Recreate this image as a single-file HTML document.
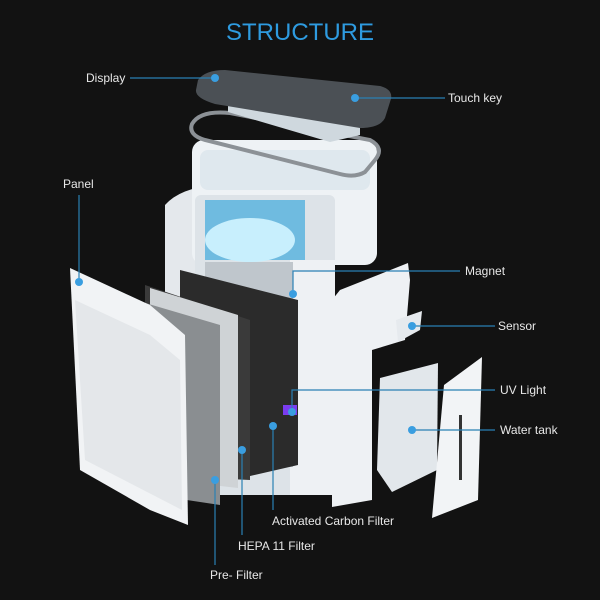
<!DOCTYPE html>
<html><head><meta charset="utf-8"><style>
html,body{margin:0;padding:0;background:#121212;}
svg{display:block}
text{font-family:"Liberation Sans",sans-serif;fill:#e8e8e8;font-size:12px}
</style></head><body>
<svg width="600" height="600" viewBox="0 0 600 600">
<rect width="600" height="600" fill="#121212"/>
<text x="300" y="40" text-anchor="middle" style="font-size:24px;fill:#2e9be0">STRUCTURE</text>

<!-- back shell -->
<path d="M165,205 Q180,188 215,185 L215,480 L165,470 Z" fill="#e4e8ec"/>
<!-- main body -->
<rect x="192" y="140" width="185" height="125" rx="12" fill="#eef2f5"/>
<rect x="200" y="150" width="170" height="40" rx="8" fill="#dfe8ee"/>
<rect x="195" y="195" width="140" height="300" rx="6" fill="#dde3e8"/>
<rect x="290" y="260" width="45" height="235" fill="#eef1f4"/>
<rect x="205" y="200" width="100" height="60" fill="#6fbbe0"/>
<ellipse cx="250" cy="240" rx="45" ry="22" fill="#c8effd"/>
<rect x="205" y="262" width="88" height="205" fill="#bfc6cc"/>
<!-- frame ring -->
<path d="M192,124 Q200,110 230,113 L370,140 Q385,148 375,160 L365,172 Q355,178 340,174 L205,140 Q188,135 192,124 Z" fill="none" stroke="#8c9196" stroke-width="4"/>
<!-- touch key module -->
<polygon points="228,100 360,123 360,135 330,142 228,112" fill="#cfd8de"/>
<!-- display -->
<path d="M198,80 Q205,70 225,70 L380,86 Q395,90 390,102 L385,118 Q380,128 360,128 L215,104 Q195,98 196,90 Z" fill="#4b5055"/>
<!-- right panel (L shape) -->
<polygon points="340,290 408,263 410,280 405,340 372,350 372,500 332,507 332,300" fill="#eef1f4"/>
<polygon points="396,320 422,311 420,330 398,342" fill="#e6eaee"/>
<!-- water tank -->
<polygon points="380,378 438,363 437,470 392,492 377,470" fill="#e2e7eb"/>
<!-- right cover -->
<polygon points="444,385 482,357 478,500 432,518" fill="#f2f4f6"/>
<rect x="459" y="415" width="3" height="65" fill="#333"/>
<!-- carbon filter -->
<polygon points="180,270 298,300 298,465 180,492" fill="#2b2b2b"/>
<!-- HEPA -->
<polygon points="145,285 250,320 250,480 145,475" fill="#3a3a3a"/>
<polygon points="150,288 238,315 238,488 150,478" fill="#cfd3d6"/>
<!-- prefilter -->
<polygon points="118,295 220,325 220,505 120,490" fill="#8a8e91"/>
<!-- panel -->
<polygon points="70,268 150,305 185,335 188,525 150,510 80,470" fill="#f1f3f5"/>
<polygon points="75,300 150,335 180,360 182,510 85,460" fill="#e4e7ea"/>
<rect x="283" y="405" width="14" height="10" fill="#7a3cf0"/>

<g stroke="#2a80b4" stroke-width="1.2" fill="none">
<path d="M130,78 H215"/>
<path d="M355,98 H445"/>
<path d="M79,195 V282"/>
<path d="M293,294 V271 H460"/>
<path d="M410,326 H495"/>
<path d="M292,412 V390 H495"/>
<path d="M412,430 H495"/>
<path d="M273,426 V510"/>
<path d="M242,450 V535"/>
<path d="M215,480 V565"/>
</g>
<g fill="#3a9ee0">
<circle cx="215" cy="78" r="4"/><circle cx="355" cy="98" r="4"/>
<circle cx="79" cy="282" r="4"/><circle cx="293" cy="294" r="4"/>
<circle cx="412" cy="326" r="4"/><circle cx="292" cy="412" r="4"/>
<circle cx="412" cy="430" r="4"/><circle cx="273" cy="426" r="4"/>
<circle cx="242" cy="450" r="4"/><circle cx="215" cy="480" r="4"/>
</g>
<text x="86" y="82">Display</text>
<text x="448" y="102">Touch key</text>
<text x="63" y="188">Panel</text>
<text x="465" y="275">Magnet</text>
<text x="498" y="330">Sensor</text>
<text x="500" y="394">UV Light</text>
<text x="500" y="434">Water tank</text>
<text x="272" y="525">Activated Carbon Filter</text>
<text x="238" y="550">HEPA 11 Filter</text>
<text x="210" y="579">Pre- Filter</text>
</svg>
</body></html>
